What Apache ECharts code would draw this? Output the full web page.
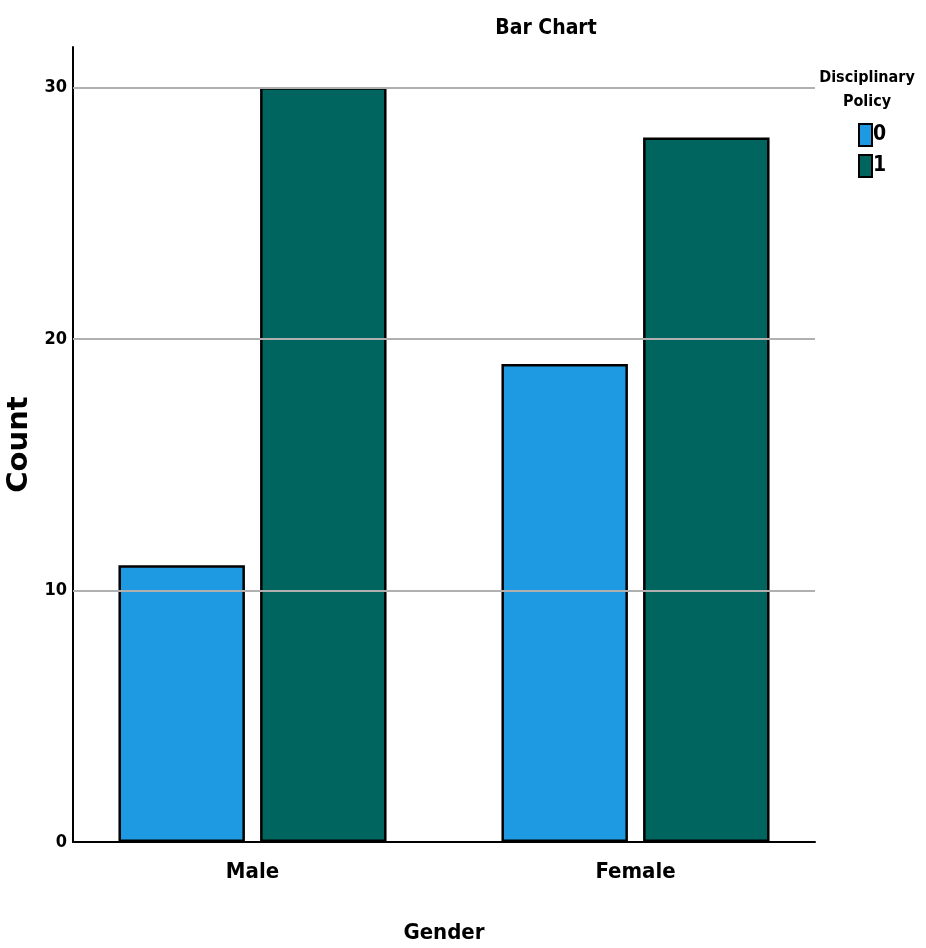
<!DOCTYPE html>
<html><head><meta charset="utf-8">
<script src="https://cdn.jsdelivr.net/npm/echarts@6/dist/echarts.min.js"></script>
<style>html,body{margin:0;padding:0;background:#fff}#c{width:926px;height:948px}</style>
</head><body><div id="c"></div>
<script>
const categories = ['Male', 'Female'];
const policy0 = [11, 19];
const policy1 = [30, 28];
const seriesNames = ['0', '1'];
const gridValues = [10, 20, 30];

const F = '"DejaVu Sans Condensed", "DejaVu Sans", sans-serif';
const chart = echarts.init(document.getElementById('c'));
chart.setOption({
  animation: false,
  title: [
    { text: 'Bar Chart', left: 541, top: 13, textAlign: 'center',
      textStyle: { fontFamily: F, fontWeight: 'bold', fontSize: 21, color: '#000' } },
    { text: 'Disciplinary\nPolicy', left: 862, top: 61, textAlign: 'center',
      textStyle: { fontFamily: F, fontWeight: 'bold', fontSize: 16, lineHeight: 24, color: '#000' } }
  ],
  legend: {
    data: seriesNames, orient: 'vertical', left: 853, top: 118,
    itemWidth: 13, itemHeight: 22, itemGap: 7, icon: 'rect',
    textStyle: { fontFamily: F, fontWeight: 'bold', fontSize: 21, color: '#000', padding: [2, 0, 0, -4] }
  },
  grid: [
    { left: 73, right: 111, top: 47, bottom: 106, containLabel: false, outerBoundsMode: 'none' },
    { left: 61, right: 99, top: 47, bottom: 106, containLabel: false, outerBoundsMode: 'none' }
  ],
  xAxis: [
    { type: 'category', gridIndex: 0, data: categories,
      axisLine: { lineStyle: { color: '#000', width: 2 } },
      axisTick: { show: false }, axisLabel: { show: false } },
    { type: 'category', gridIndex: 1, data: categories,
      axisLine: { show: false }, axisTick: { show: false },
      axisLabel: { fontFamily: F, fontWeight: 'bold', fontSize: 22, color: '#000', margin: 19 },
      name: 'Gender', nameLocation: 'middle', nameGap: 80,
      nameTextStyle: { fontFamily: F, fontWeight: 'bold', fontSize: 22, color: '#000' } }
  ],
  yAxis: [
    { type: 'value', gridIndex: 0, min: 0, max: 31.6, interval: 10,
      axisLine: { show: true, lineStyle: { color: '#000', width: 2 } },
      axisTick: { show: false }, splitLine: { show: false },
      axisLabel: { fontFamily: F, fontWeight: 'bold', fontSize: 18, color: '#000', margin: 6,
        formatter: v => (v % 10 === 0 ? String(v) : '') },
      name: 'Count', nameLocation: 'middle', nameGap: 34,
      nameTextStyle: { fontFamily: '"DejaVu Sans", sans-serif', fontWeight: 'bold', fontSize: 29, color: '#000' } },
    { type: 'value', gridIndex: 1, min: 0, max: 31.6,
      axisLine: { show: false }, axisTick: { show: false },
      axisLabel: { show: false }, splitLine: { show: false } }
  ],
  series: [
    { name: 'grid', type: 'bar', xAxisIndex: 0, yAxisIndex: 0, data: [],
      markLine: { silent: true, symbol: 'none', label: { show: false },
        lineStyle: { color: '#b0b0b0', width: 2, type: 'solid' },
        data: gridValues.map(v => ({ yAxis: v })) } },
    { name: seriesNames[0], type: 'bar', xAxisIndex: 1, yAxisIndex: 1, data: policy0,
      barGap: '12%', barCategoryGap: '30%', z: 3,
      itemStyle: { color: '#1E9AE3', borderColor: '#000', borderWidth: 2.5 } },
    { name: seriesNames[1], type: 'bar', xAxisIndex: 1, yAxisIndex: 1, data: policy1, z: 3,
      itemStyle: { color: '#00645F', borderColor: '#000', borderWidth: 2.5 } }
  ]
});
</script></body></html>
